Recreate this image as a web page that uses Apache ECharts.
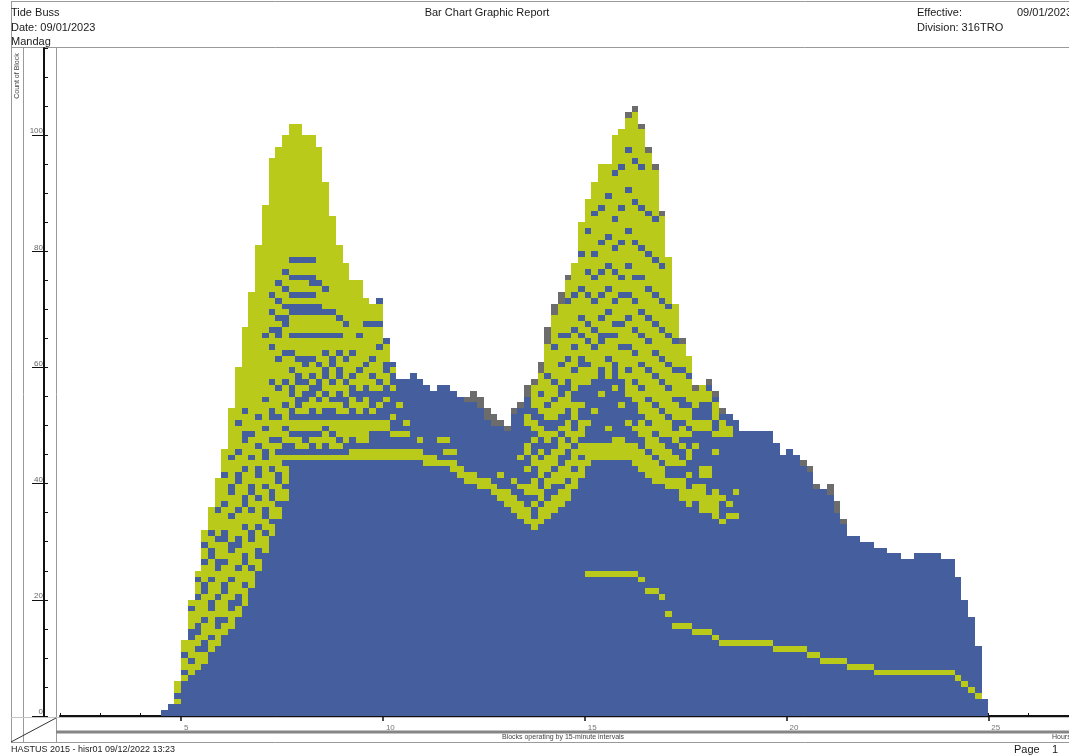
<!DOCTYPE html>
<html>
<head>
<meta charset="utf-8">
<title>Bar Chart Graphic Report</title>
<script src="https://cdn.jsdelivr.net/npm/echarts@6/dist/echarts.min.js"></script>
<style>
html, body { margin: 0; padding: 0; background: #fff; }
#chart { width: 1069px; height: 756px; }
</style>
</head>
<body>
<div id="chart"></div>
<script>
// one column per 10-minute slot, starting at 04:30
var firstSlot = 4.5;
var slotHours = 1 / 6;

// total count of blocks in each slot
var totals = [
   1, 2, 6, 13, 20, 25, 32, 36, 41, 46,
   53, 60, 67, 73, 81, 88, 96, 98, 100, 102,
   102, 100, 100, 98, 92, 86, 81, 78, 75, 75,
   72, 71, 72, 65, 61, 58, 58, 59, 58, 57,
   56, 57, 57, 56, 55, 55, 56, 55, 53, 52,
   51, 50, 53, 54, 57, 58, 61, 67, 71, 73,
   76, 78, 85, 89, 92, 95, 95, 100, 101, 104,
   105, 102, 98, 95, 87, 79, 71, 65, 62, 57,
   57, 58, 56, 53, 52, 51, 49, 49, 49, 49,
   49, 47, 45, 46, 45, 44, 43, 40, 39, 40,
   37, 34, 31, 31, 30, 30, 29, 29, 28, 28,
   27, 27, 28, 28, 28, 28, 27, 27, 24, 20,
   17, 12, 3
];

// cells (row numbers from 0) drawn yellow-green in each slot
var yellowCells = [
   "", "", "2,4-5", "6,8-9,11-12", "7-8,10-12,15-17,19",
   "8-10,12-13,16-19,21-22,24",
   "9-10,13-15,17-20,23-25,27-28,30-31",
   "11-12,14-17,20-22,24-26,29-30,32-35",
   "12-14,17-19,21-24,27-29,31-34,36-40",
   "14-15,17-20,23-25,27-29,32-35,37-40,42-45",
   "15-17,20-22,24-27,30-33,35-37,40-43,45-52",
   "17-18,21-24,26-28,31-34,36-39,42-44,46-49,51-59",
   "19-21,23-25,28-31,33-35,38-41,43-46,49-51,53-66",
   "22-24,26-29,32-34,36-37,40-43,45-47,49-72",
   "25-26,29-31,33-36,38-40,43-45,47-50,52-80",
   "28-30,32-33,36-38,40-43,46-48,50-53,55-64,66-87",
   "31-32,34-36,39-41,43-46,48-50,53-56,58-62,64-65,67-68,70-71,73-95",
   "34-35,37-39,42-44,46,48-50,52-55,57-60,62-64,67,69-70,72-73,75-97",
   "37-38,40-42,44,47-48,50-52,54-56,58-61,63-66,69,71-72,74-75,77-99",
   "44,47,49-50,53-54,57-58,60-61,63-64,66-68,71,73-74,76-77,79-101",
   "44,46-47,49-50,52,55-56,59-60,62-64,66-68,71,73-74,76-77,79-101",
   "44,46,49-50,52-53,56,58-59,62-64,66-68,71,73-74,76-77,79-99",
   "44,47,49-50,53-54,57,59-60,62-64,66-68,71,73,76-77,79-99",
   "44,46-47,49-50,52-53,55,58-59,61-64,66-68,71-73,75-97",
   "44,47-48,50,53-54,56-57,60-61,63-64,66-68,70-72,74-91",
   "44,46-47,49-50,53,55-56,58-59,62-64,66-68,70-85",
   "44,46,48-50,52-53,56-57,60-61,63-64,66-67,69-80",
   "44,47-50,52,55-56,58-60,62-66,68-77",
   "44-45,48-50,53-54,57,59-61,63-74",
   "44-45,47-50,52-53,56-58,60-64,66-74",
   "44-45,47-50,53-54,57-59,61-66,68-71",
   "44-45,49-50,52,56-57,59-60,62-66,68-70",
   "44-45,49-50,53,56,58-62,64-66,68-70",
   "44-45,49-50,54,57-58,61-63",
   "44-45,48,51,56,59",
   "44-45,48,53",
   "44-45,48,50",
   "44-45",
   "44-45,47",
   "43-44",
   "43-44",
   "43,47",
   "43,45,47",
   "42-43,45",
   "41-42",
   "40-41",
   "40-41",
   "39-40",
   "39-40",
   "38-39",
   "37-38,41",
   "36-38",
   "35-37,40",
   "34-36,39,44",
   "33-35,38-39,42,45-46,50-51",
   "32-33,36,38-40,43-44,47,49-50,53-56",
   "33-35,37-38,41-43,45,48-49,52-54,56-58",
   "34-36,39-40,42-44,47-48,51-52,54-57,59-63",
   "35-37,40-41,43-45,48,51-53,55-56,58-62,64-68",
   "36-38,40-42,45-47,49,52-54,57-59,61-64,66-70",
   "37-39,41-43,46,48-50,53-55,58-60,62-64,66-70,72-74",
   "39-41,43-45,47-48,51-53,56-58,60-62,64-65,67-71,73-77",
   "41-43,45-46,48-50,53,57-59,62-64,66-67,69-72,74-78,80-84",
   "24,43-46,50,57-59,61-63,65-66,68-71,73-75,77-82,84-88",
   "24,44-46,52,58-62,64-65,67-70,72-74,76-78,80-85,87-91",
   "24,44-46,55,60-63,66-67,69-71,73-75,77-80,82-86,88-94",
   "24,44-46,49,58-60,62-64,66-68,70-72,74-76,78-81,83-88,90-94",
   "24,44-47,56,61-64,66,68-70,72-75,77-79,81-84,86-92,94-99",
   "24,44-47,53,58-62,64-66,68-71,73-74,76-80,82-86,88-93,95-100",
   "24,44-46,50,55-58,60-62,64-67,69-71,73-76,78-82,84-89,91-96,98-102",
   "24,43-46,49,54-56,58-61,63-65,67-70,72-74,76-80,82-87,89-94,96-103",
   "23,42-45,48-50,52-55,57-59,61-64,66-68,70-74,76-79,81-86,88-93,95-100",
   "21,41-44,46-49,51-53,55-58,60-63,65-67,69-72,74-78,80-85,87-96",
   "21,40-43,45-47,49-52,54-57,59-61,63-66,68-71,73-77,79-84,86-93",
   "20,40-42,44-46,48-51,53-56,58-60,62-65,67-70,72-76,78-85",
   "17,39-40,43-45,48-50,52-55,57-59,61-64,66-69,71-78",
   "15,39-40,43-44,47-48,51-53,55-58,60-63,65-70",
   "15,37-40,43,46,48-49,51-52,55-58,60-63",
   "15,36-38,41,44-45,48,50-52,54-57,59-61",
   "14,37-39,46,49-50,53-55",
   "14,35-39,41-42,49-50,54-56",
   "14,35-37,41-42,49-50,54-55",
   "13,34-38,45,48,51-53",
   "12,33,37,48-50",
   "12,34,36,48-49",
   "12,34,38",
   "12", "12", "12", "12", "12",
   "11", "11", "11", "11", "11",
   "10", "10",
   "9", "9", "9", "9",
   "8", "8", "8", "8",
   "7", "7", "7", "7", "7", "7", "7", "7", "7", "7", "7", "7",
   "6", "5", "4", "3", ""
];

// [slot, cells] drawn grey on top of a slot
var grayCells = [
   [45, "54"], [46, "54-55"], [47, "53-54"], [48, "51-52"], [49, "50-51"],
   [50, "50"], [51, "49"], [52, "52"], [53, "53"], [54, "55-56"],
   [55, "57"], [56, "59-60"], [57, "64-66"], [58, "69-70"], [59, "71-72"],
   [60, "75"], [69, "103"], [70, "104"], [71, "101"], [72, "97"],
   [73, "94"], [74, "86"], [77, "64"], [79, "56"], [81, "57"],
   [82, "55"], [83, "52"], [95, "43"], [96, "42"], [97, "39"],
   [99, "38-39"], [100, "35-36"], [101, "33"]
];

var hourLabels = [5, 10, 15, 20, 25];
var countLabels = [0, 20, 40, 60, 80, 100];
var cellColors = ['#455e9e', '#b9ca1a', '#6c6c6c'];

var parseCells = function(s) {
   var out = [];
   if(!s) {
      return out;
   }
   s.split(',').forEach(function(part) {
      var ab = part.split('-');
      var a = +ab[0];
      var b = ab.length > 1 ? +ab[1] : a;
      out.push([a, b + 1]);
   });
   return out;
};

// each cell: [slot index, from row, to row, colour index]
var cells = [];
totals.forEach(function(t, c) {
   cells.push([c, 0, t, 0]);
   parseCells(yellowCells[c]).forEach(function(r) {
      cells.push([c, r[0], r[1], 1]);
   });
});
grayCells.forEach(function(g) {
   parseCells(g[1]).forEach(function(r) {
      cells.push([g[0], r[0], r[1], 2]);
   });
});

var slotStart = function(c) {
   return firstSlot + c * slotHours;
};

var font = '"Liberation Sans", Arial, sans-serif';
var lineColor = '#9a9a9a';

var hline = function(x1, x2, y, color, w) {
   return { type: 'line', silent: true, shape: { x1: x1, y1: y, x2: x2, y2: y },
      style: { stroke: color || lineColor, lineWidth: w || 1 } };
};
var vline = function(x, y1, y2, color, w) {
   return { type: 'line', silent: true, shape: { x1: x, y1: y1, x2: x, y2: y2 },
      style: { stroke: color || lineColor, lineWidth: w || 1 } };
};
var text = function(x, y, str, size, align, color) {
   return { type: 'text', silent: true, x: x, y: y,
      style: { text: str, font: (size || 11) + 'px ' + font, fill: color || '#1a1a1a',
         align: align || 'left', verticalAlign: 'middle' } };
};

var chart = echarts.init(document.getElementById('chart'));

var option = {
   animation: false,
   backgroundColor: '#ffffff',
   grid: { left: 60, top: 48, width: 1010, height: 668 },
   xAxis: [{
      type: 'value', min: 2, max: 27, interval: 1, offset: 6,
      axisLine: { lineStyle: { color: '#111', width: 2 } },
      axisTick: { inside: true, length: 3, lineStyle: { color: '#111' } },
      axisLabel: { show: false },
      splitLine: { show: false }
   }, {
      type: 'value', min: 2, max: 27, interval: 1, offset: 6, position: 'bottom',
      axisLine: { show: false },
      axisTick: { length: 5, customValues: hourLabels, lineStyle: { color: '#111', width: 1.5 } },
      axisLabel: { customValues: hourLabels, margin: 2, align: 'left', padding: [0, 0, 0, 3],
         fontSize: 8, color: '#777', fontFamily: font },
      splitLine: { show: false }
   }],
   yAxis: [{
      type: 'value', min: 0, max: 115, interval: 5, offset: 16,
      axisLine: { show: true, lineStyle: { color: '#111', width: 2 } },
      axisTick: { show: true, inside: true, length: 4, lineStyle: { color: '#111' } },
      axisLabel: { show: false },
      splitLine: { show: false }
   }, {
      type: 'value', min: 0, max: 115, interval: 5, offset: 16, position: 'left',
      axisLine: { show: false },
      axisTick: { show: true, length: 12, customValues: countLabels, lineStyle: { color: '#111' } },
      axisLabel: { customValues: countLabels, margin: 1, verticalAlign: 'bottom',
         fontSize: 8, color: '#666', fontFamily: font },
      splitLine: { show: false }
   }],
   series: [{
      type: 'custom',
      xAxisIndex: 0,
      yAxisIndex: 0,
      data: cells,
      renderItem: function(params, api) {
         var c = api.value(0);
         var p0 = api.coord([slotStart(c), api.value(1)]);
         var p1 = api.coord([slotStart(c + 1), api.value(2)]);
         var x0 = Math.round(p0[0]), x1 = Math.round(p1[0]);
         var y0 = Math.round(p0[1]), y1 = Math.round(p1[1]);
         return {
            type: 'rect',
            shape: { x: x0, y: y1, width: x1 - x0, height: y0 - y1 },
            style: { fill: cellColors[api.value(3)] }
         };
      }
   }],
   graphic: [
      hline(11, 1069, 1.5),
      hline(11, 1069, 47.5),
      vline(11.5, 1, 742),
      vline(23.5, 47, 742),
      vline(56.5, 47, 742),
      hline(11, 1069, 717.5, '#c4c4c4'),
      hline(11, 1069, 742.5),
      hline(56, 1069, 732, '#858585', 3),
      { type: 'line', silent: true, shape: { x1: 11, y1: 742, x2: 56, y2: 718 },
        style: { stroke: '#333', lineWidth: 1 } },
      text(11, 13, 'Tide Buss'),
      text(11, 28, 'Date: 09/01/2023'),
      text(11, 42, 'Mandag'),
      text(487, 13, 'Bar Chart Graphic Report', 11, 'center'),
      text(917, 13, 'Effective:'),
      text(1017, 13, '09/01/2023'),
      text(917, 28, 'Division: 316TRO'),
      { type: 'text', silent: true, x: 17, y: 76, rotation: Math.PI / 2,
        style: { text: 'Count of Block', font: '7px ' + font, fill: '#444',
           align: 'center', verticalAlign: 'middle' } },
      text(563, 737, 'Blocks operating by 15-minute intervals', 7, 'center', '#444'),
      text(1052, 737, 'Hours', 7, 'left', '#444'),
      text(11, 750, 'HASTUS 2015 - hisr01 09/12/2022 13:23', 9),
      text(1014, 750, 'Page    1', 11)
   ]
};

chart.setOption(option);
</script>
</body>
</html>
